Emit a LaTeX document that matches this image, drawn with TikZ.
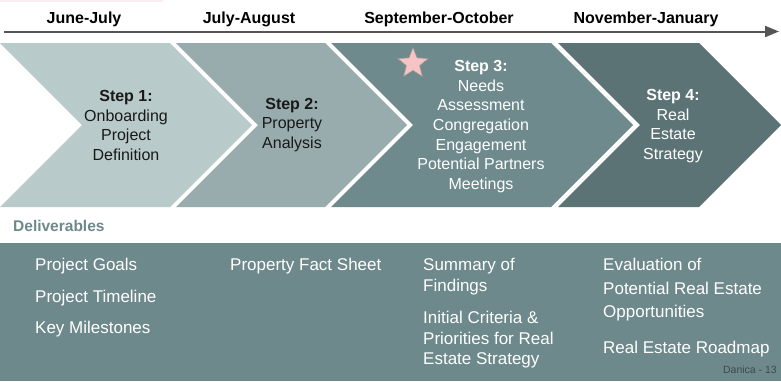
\documentclass[tikz,border=0pt]{standalone}
\usepackage{fontspec}
\setmainfont{Liberation Sans}
\usetikzlibrary{shapes.geometric,arrows.meta}
\definecolor{cA}{HTML}{B8CACA}
\definecolor{cB}{HTML}{98ABAD}
\definecolor{cC}{HTML}{6E8A8C}
\definecolor{cD}{HTML}{5C7375}
\definecolor{band}{HTML}{6D898B}
\definecolor{axis}{HTML}{555555}
\definecolor{starfill}{HTML}{F6C4C4}
\definecolor{pinkbar}{HTML}{FBEDED}
\begin{document}
\begin{tikzpicture}[x=1pt,y=-1pt,
  month/.style={font=\fontsize{16}{19}\selectfont\bfseries, text=black, inner sep=0pt, anchor=base},
  steptext/.style={font=\fontsize{16}{19.6}\selectfont, align=center, inner sep=0pt},
  deliv/.style={font=\fontsize{17}{20}\selectfont, text=white, inner sep=0pt, anchor=base west},
  chev/.style={draw=none}]
\useasboundingbox (0,0) rectangle (781,381);
\fill[white] (0,0) rectangle (781,381);
\fill[pinkbar] (0,0) rectangle (163,1.5);
% timeline
\coordinate (tl0) at (4,31.5);
\coordinate (tl1) at (779,31.5);
\draw[axis, line width=2pt, -{Triangle[length=14pt,width=11pt]}] (tl0) -- (tl1);
\node[month] (m1) at (84,23.5) {June-July};
\node[month] (m2) at (249,23.5) {July-August};
\node[month] (m3) at (439,23.5) {September-October};
\node[month] (m4) at (646,23.5) {November-January};
% chevrons
\fill[cA] (0,43) -- (170,43) -- (252,125) -- (170,207) -- (0,207) -- (82,125) -- cycle;
\fill[cB] (176,43) -- (325,43) -- (407,125) -- (325,207) -- (176,207) -- (258,125) -- cycle;
\fill[cC] (331,43) -- (551,43) -- (633,125) -- (551,207) -- (331,207) -- (413,125) -- cycle;
\fill[cD] (558,43) -- (699,43) -- (781,125) -- (699,207) -- (558,207) -- (640,125) -- cycle;
\node[star, star points=5, star point ratio=2.3, minimum size=32pt, inner sep=0pt, fill=starfill, draw=gray!80, line width=0.6pt] (star) at (413,63.5) {};
\node[steptext, text=black!90] (s1) at (126,125.5) {\textbf{Step 1:}\\Onboarding\\Project\\Definition};
\node[steptext, text=black!90] (s2) at (292,125) {\textbf{Step 2:}\\Property\\Analysis};
\node[steptext, text=white] (s3) at (481,126.5) {\textbf{Step 3:}\\Needs\\Assessment\\Congregation\\Engagement\\Potential Partners\\Meetings};
\node[steptext, text=white] (s4) at (673,126) {\textbf{Step 4:}\\Real\\Estate\\Strategy};
% deliverables
\node[font=\fontsize{15.5}{18}\selectfont\bfseries, text=band, inner sep=0pt, anchor=base west] (dl) at (13,231.5) {Deliverables};
\fill[band] (0,243) rectangle (781,381);
\node[deliv] (a1) at (35,270) {Project Goals};
\node[deliv] (a2) at (35,302) {Project Timeline};
\node[deliv] (a3) at (35,333) {Key Milestones};
\node[deliv] (b1) at (230,270) {Property Fact Sheet};
\node[deliv] (c1) at (423,270) {Summary of};
\node[deliv] (c2) at (423,291) {Findings};
\node[deliv] (c3) at (423,323) {Initial Criteria \&};
\node[deliv] (c4) at (423,344) {Priorities for Real};
\node[deliv] (c5) at (423,364) {Estate Strategy};
\node[deliv] (d1) at (603,270) {Evaluation of};
\node[deliv] (d2) at (603,294) {Potential Real Estate};
\node[deliv] (d3) at (603,317) {Opportunities};
\node[deliv] (d4) at (603,353) {Real Estate Roadmap};
\node[font=\fontsize{10.5}{12}\selectfont, text=black!45!band, inner sep=0pt, anchor=base east] (pg) at (777,373) {Danica - 13};
\end{tikzpicture}
\end{document}
